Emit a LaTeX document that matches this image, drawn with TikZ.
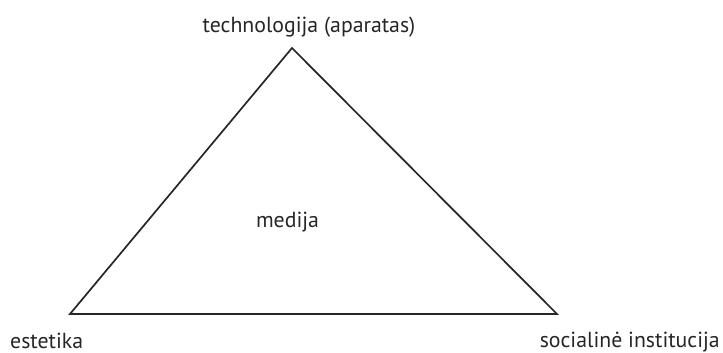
\documentclass[tikz,border=0pt]{standalone}
\usepackage{fontspec}
\setmainfont{PT Sans}
\usetikzlibrary{positioning}
\tikzset{
  corner/.style={inner sep=0pt, minimum size=0pt},
  lbl/.style={font=\fontsize{21.8}{24}\selectfont, inner sep=0pt, text=black!85},
  side/.style={line width=1.7pt, draw=black!85, line join=miter},
}

\begin{document}
\begin{tikzpicture}[x=1pt, y=-1pt]
  \useasboundingbox (0,0) rectangle (723,353);
  % corners of the triangle
  \coordinate (tech) at (292,48);
  \coordinate (est) at (70,314);
  \coordinate (soc) at (557,314);
  \draw[side] (tech) -- (soc) -- (est) -- cycle;
  % labels
  \node[lbl, anchor=base] (techlbl) at (309,33) {technologija (aparatas)};
  \node[lbl, anchor=base] (medlbl) at (287.5,227) {medija};
  \node[lbl, anchor=base west] (estlbl) at (10,348) {estetika};
  \node[lbl, anchor=base east] (soclbl) at (720,347) {socialinė institucija};
\end{tikzpicture}
\end{document}
